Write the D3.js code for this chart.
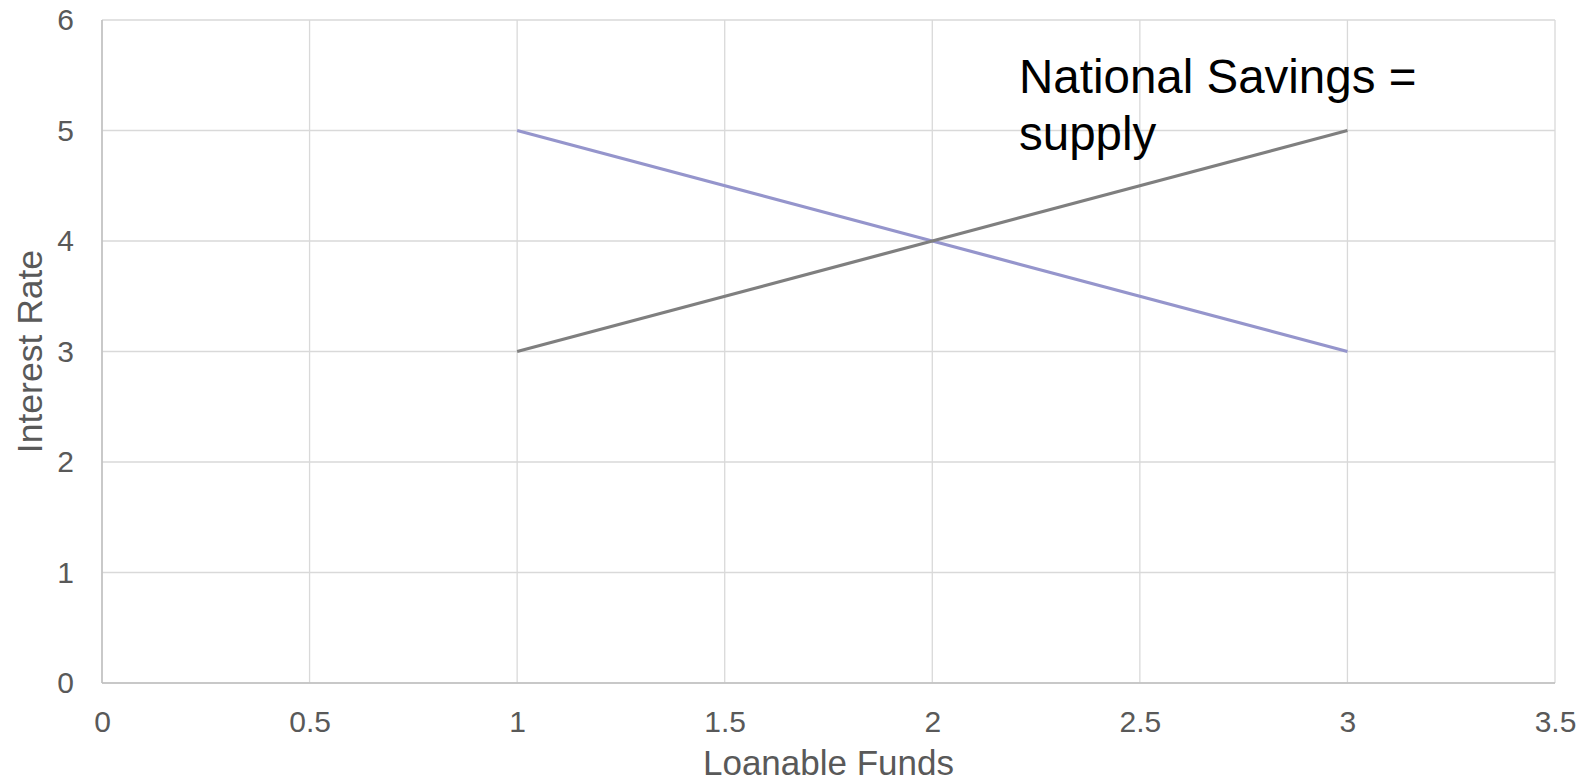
<!DOCTYPE html>
<html>
<head>
<meta charset="utf-8">
<script src="https://cdn.jsdelivr.net/npm/d3@7"></script>
<style>
  html, body { margin: 0; padding: 0; background: #fff; }
  svg { display: block; font-family: "Liberation Sans", Arial, sans-serif; }
</style>
</head>
<body>
<svg id="chart" width="1590" height="783"></svg>
<script>
// Loanable funds market: demand (investment) and supply (national savings)
const fundsQty = [1, 2, 3];
const demandRate = [5, 4, 3];
const supplyRate = [3, 4, 5];
const xTicks = [0, 0.5, 1, 1.5, 2, 2.5, 3, 3.5];
const yTicks = [0, 1, 2, 3, 4, 5, 6];
const xTitle = "Loanable Funds";
const yTitle = "Interest Rate";
const noteLines = ["National Savings =", "supply"];

const svg = d3.select("#chart");
const margin = { left: 102, right: 35, top: 20, bottom: 100 };
const W = 1590, H = 783;

const x = d3.scaleLinear().domain([0, 3.5]).range([margin.left, W - margin.right]);
const y = d3.scaleLinear().domain([0, 6]).range([H - margin.bottom, margin.top]);

// Gridlines
const grid = svg.append("g").attr("class", "grid");
grid.selectAll("line.v").data(xTicks).join("line")
  .attr("class", "v")
  .attr("x1", d => x(d)).attr("x2", d => x(d))
  .attr("y1", y(6)).attr("y2", y(0))
  .attr("stroke", "#d9d9d9").attr("stroke-width", 1.3);
grid.selectAll("line.h").data(yTicks).join("line")
  .attr("class", "h")
  .attr("x1", x(0)).attr("x2", x(3.5))
  .attr("y1", d => y(d)).attr("y2", d => y(d))
  .attr("stroke", "#d9d9d9").attr("stroke-width", 1.3);

// Axis lines
svg.append("line")
  .attr("x1", x(0)).attr("x2", x(3.5)).attr("y1", y(0)).attr("y2", y(0))
  .attr("stroke", "#bfbfbf").attr("stroke-width", 1.5);
svg.append("line")
  .attr("x1", x(0)).attr("x2", x(0)).attr("y1", y(0)).attr("y2", y(6))
  .attr("stroke", "#bfbfbf").attr("stroke-width", 1.5);

// Axes (labels only)
const xAxis = svg.append("g")
  .attr("transform", `translate(0,${y(0)})`)
  .call(d3.axisBottom(x).tickValues(xTicks).tickFormat(d3.format("")).tickSize(0).tickPadding(28));
const yAxis = svg.append("g")
  .attr("transform", `translate(${x(0)},0)`)
  .call(d3.axisLeft(y).tickValues(yTicks).tickFormat(d3.format("d")).tickSize(0).tickPadding(28));
[xAxis, yAxis].forEach(a => {
  a.select(".domain").remove();
  a.selectAll("text")
    .attr("fill", "#595959")
    .style("font-size", "30px")
    .style("font-family", "'Liberation Sans', Arial, sans-serif");
});

// Axis titles
svg.append("text")
  .attr("x", (x(0) + x(3.5)) / 2)
  .attr("y", 775)
  .attr("text-anchor", "middle")
  .attr("fill", "#595959")
  .style("font-size", "35px")
  .text(xTitle);
svg.append("text")
  .attr("transform", `translate(42,${(y(0) + y(6)) / 2}) rotate(-90)`)
  .attr("text-anchor", "middle")
  .attr("fill", "#595959")
  .style("font-size", "35.5px")
  .text(yTitle);

// Curves
const line = d3.line().x(d => x(d[0])).y(d => y(d[1]));
svg.append("path")
  .datum(d3.zip(fundsQty, demandRate))
  .attr("d", line)
  .attr("fill", "none")
  .attr("stroke", "#9595cc")
  .attr("stroke-width", 3.2);
svg.append("path")
  .datum(d3.zip(fundsQty, supplyRate))
  .attr("d", line)
  .attr("fill", "none")
  .attr("stroke", "#7f7f7f")
  .attr("stroke-width", 3.2);

// Annotation
const note = svg.append("text")
  .attr("x", 1019)
  .attr("y", 93)
  .attr("fill", "#000")
  .style("font-size", "47.5px");
note.selectAll("tspan").data(noteLines).join("tspan")
  .attr("x", 1019)
  .attr("dy", (d, i) => i === 0 ? 0 : 57)
  .text(d => d);
</script>
</body>
</html>
